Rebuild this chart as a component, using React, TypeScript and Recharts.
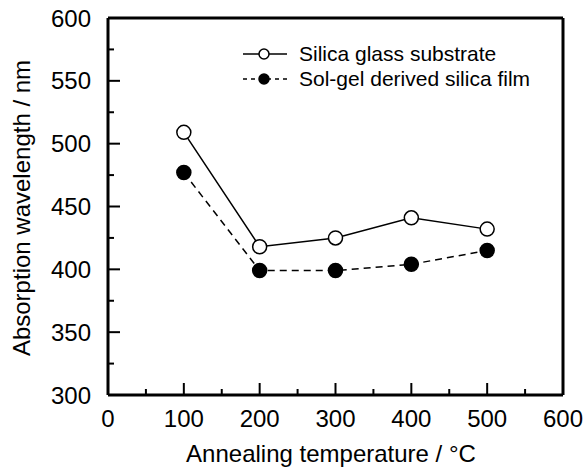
import { LineChart, Line, XAxis, YAxis } from 'recharts'

// ─── Data ─────────────────────────────────────────────────────────────────────

const temps = [100, 200, 300, 400, 500]
const silicaGlass = [509, 418, 425, 441, 432]
const solGel = [477, 399, 399, 404, 415]

const xTicks = [0, 50, 100, 150, 200, 250, 300, 350, 400, 450, 500, 550, 600]
const yTicks = [300, 325, 350, 375, 400, 425, 450, 475, 500, 525, 550, 575, 600]

const SERIES = [
  { key: 'glass', name: 'Silica glass substrate', fill: '#fff', dash: undefined as string | undefined },
  { key: 'solgel', name: 'Sol-gel derived silica film', fill: '#000', dash: '7 5' },
]

const data = temps.map((t, i) => ({ t, glass: silicaGlass[i], solgel: solGel[i] }))

const FONT = '"Liberation Sans", Arial, sans-serif'

// ─── Ticks (drawn inward) ─────────────────────────────────────────────────────

function BottomTick({ x, y, payload }: any) {
  const major = payload.value % 100 === 0
  return (
    <g>
      <line x1={x} y1={y} x2={x} y2={y - (major ? 12 : 6)} stroke="#000" strokeWidth={2} />
      {major && (
        <text x={x} y={y + 32} textAnchor="middle" fontSize={24} fontFamily={FONT} fill="#000">
          {payload.value}
        </text>
      )}
    </g>
  )
}

function TopTick({ x, y, payload }: any) {
  const major = payload.value % 100 === 0
  return <line x1={x} y1={y} x2={x} y2={y + (major ? 12 : 6)} stroke="#000" strokeWidth={2} />
}

function LeftTick({ x, y, payload }: any) {
  const major = payload.value % 50 === 0
  return (
    <g>
      <line x1={x} y1={y} x2={x + (major ? 12 : 6)} y2={y} stroke="#000" strokeWidth={2} />
      {major && (
        <text x={x - 17} y={y + 8.5} textAnchor="end" fontSize={24} fontFamily={FONT} fill="#000">
          {payload.value}
        </text>
      )}
    </g>
  )
}

function RightTick({ x, y, payload }: any) {
  const major = payload.value % 50 === 0
  return <line x1={x} y1={y} x2={x - (major ? 12 : 6)} y2={y} stroke="#000" strokeWidth={2} />
}

// ─── Legend ───────────────────────────────────────────────────────────────────

function LegendBox() {
  return (
    <div style={{ position: 'absolute', left: 242, top: 41, fontFamily: FONT, fontSize: 21, color: '#000' }}>
      {SERIES.map((s) => (
        <div key={s.key} style={{ display: 'flex', alignItems: 'center', height: 25 }}>
          <svg width={46} height={14} style={{ marginRight: 11 }}>
            <line x1={1} y1={7} x2={45} y2={7} stroke="#000" strokeWidth={1.5} strokeDasharray={s.dash ? '4 4' : undefined} />
            <circle cx={22} cy={7} r={5} fill={s.fill} stroke="#000" strokeWidth={1.5} />
          </svg>
          <span>{s.name}</span>
        </div>
      ))}
    </div>
  )
}

// ─── Chart ────────────────────────────────────────────────────────────────────

export default function App() {
  return (
    <div style={{ position: 'absolute', left: 0, top: 0, width: 586, height: 472, background: '#fff' }}>
      <LineChart width={586} height={472} data={data} margin={{ top: 0, right: 0, bottom: 0, left: 0 }}>
        <XAxis
          dataKey="t"
          type="number"
          domain={[0, 600]}
          ticks={xTicks}
          interval={0}
          height={77}
          tickSize={0}
          tickMargin={0}
          tickLine={false}
          tick={<BottomTick />}
          axisLine={{ stroke: '#000', strokeWidth: 3 }}
        />
        <XAxis
          xAxisId="top"
          orientation="top"
          type="number"
          domain={[0, 600]}
          ticks={xTicks}
          interval={0}
          height={18}
          tickSize={0}
          tickMargin={0}
          tickLine={false}
          tick={<TopTick />}
          axisLine={{ stroke: '#000', strokeWidth: 3 }}
        />
        <YAxis
          type="number"
          domain={[300, 600]}
          ticks={yTicks}
          interval={0}
          width={108}
          tickSize={0}
          tickMargin={0}
          tickLine={false}
          tick={<LeftTick />}
          axisLine={{ stroke: '#000', strokeWidth: 3 }}
        />
        <YAxis
          yAxisId="right"
          orientation="right"
          type="number"
          domain={[300, 600]}
          ticks={yTicks}
          interval={0}
          width={23}
          tickSize={0}
          tickMargin={0}
          tickLine={false}
          tick={<RightTick />}
          axisLine={{ stroke: '#000', strokeWidth: 3 }}
        />
        {SERIES.map((s) => (
          <Line
            key={s.key}
            dataKey={s.key}
            name={s.name}
            stroke="#000"
            strokeWidth={1.5}
            strokeDasharray={s.dash}
            dot={{ r: 7, fill: s.fill, stroke: '#000', strokeWidth: 1.5, strokeDasharray: 'none' }}
            activeDot={false}
            isAnimationActive={false}
          />
        ))}
      </LineChart>
      <LegendBox />
      <svg width={586} height={472} style={{ position: 'absolute', left: 0, top: 0, pointerEvents: 'none' }}>
        <text x={331} y={462} textAnchor="middle" fontSize={24} fontFamily={FONT} fill="#000">
          Annealing temperature / °C
        </text>
        <text x={30} y={208} textAnchor="middle" fontSize={24} fontFamily={FONT} fill="#000" transform="rotate(-90 30 208)">
          Absorption wavelength / nm
        </text>
      </svg>
    </div>
  )
}
